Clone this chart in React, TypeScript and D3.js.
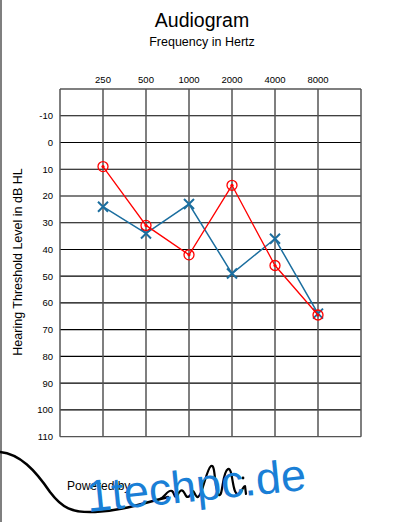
import React from 'react';
import * as d3 from 'd3';

// audiogram values (dB HL)
const frequencies = ['250', '500', '1000', '2000', '4000', '8000'];
const dbTicks = [-10, 0, 10, 20, 30, 40, 50, 60, 70, 80, 90, 100, 110];
const rightEar = [9, 31, 42, 16, 46, 64.5];
const leftEar = [24, 34, 23, 49, 36, 64];

const W = 394;
const H = 522;

export default function App() {
    const left = 60, right = 361, top = 89, bottom = 436.7;

    // columns: edges at 0..7, frequencies sit on 1..6
    const x = d3.scaleLinear().domain([0, 7]).range([left, right]);
    const y = d3.scaleLinear().domain([-20, 110]).range([top, bottom]);

    const line = d3.line<number>()
        .x((d, i) => x(i + 1))
        .y(d => y(d));

    const font = "'Liberation Sans', Arial, sans-serif";

    // footer swoosh + signature
    const swoosh = 'M0,452 C20,454 35,470 50,492 C62,508 72,513 95,512 C120,511 140,504 168,497';
    const signature = 'M160,499 C165,497 168,489 172,491 C175,493 174,499 177,496 C180,490 182,488 185,494 C187,499 190,497 192,492 C194,488 195,498 198,497 ' +
        'C203,494 206,470 211,466 C216,463 214,492 219,495 C223,497 222,472 228,469 C233,467 232,495 238,494 C242,493 243,486 245,486 L246,494';

    return (
        <svg width={W} height={H} style={{ position: 'absolute', left: 0, top: 0, background: '#fff' }}
            fontFamily={font}>
            <line x1={1} x2={1} y1={0} y2={H} stroke="#555" strokeWidth={1.5} />

            <text x={202} y={27} textAnchor="middle" fontSize={19.5} fill="#000">Audiogram</text>
            <text x={202} y={46} textAnchor="middle" fontSize={12.5} fill="#000">Frequency in Hertz</text>

            {/* frequency labels */}
            {frequencies.map((f, i) => (
                <text key={f} x={x(i + 1)} y={82.5} textAnchor="middle" fontSize={9.5} fill="#000">{f}</text>
            ))}

            {/* horizontal grid */}
            {d3.range(-20, 111, 10).map(v => (
                <line key={'h' + v} x1={left} x2={right} y1={y(v)} y2={y(v)}
                    stroke={v === 110 ? '#555' : '#000'} strokeWidth={1.2} />
            ))}
            {/* vertical grid */}
            {d3.range(0, 8).map(i => (
                <line key={'v' + i} x1={x(i)} x2={x(i)} y1={top} y2={bottom}
                    stroke="#555" strokeWidth={1.5} />
            ))}

            {dbTicks.map(v => (
                <text key={'t' + v} x={53} y={y(v) + 3.5} textAnchor="end" fontSize={9.5} fill="#000">{v}</text>
            ))}

            <text transform={`translate(22,262) rotate(-90)`} textAnchor="middle" fontSize={12.5} fill="#000">
                Hearing Threshold Level in dB HL
            </text>

            {/* left ear (blue X) */}
            <path d={line(leftEar) || ''} fill="none" stroke="#1b6e9f" strokeWidth={1.5} />
            {leftEar.map((v, i) => {
                const cx = x(i + 1), cy = y(v), s = 5;
                return (
                    <path key={'x' + i} d={`M${cx - s},${cy - s}L${cx + s},${cy + s}M${cx - s},${cy + s}L${cx + s},${cy - s}`}
                        stroke="#1b6e9f" strokeWidth={2} fill="none" />
                );
            })}

            {/* right ear (red O) */}
            <path d={line(rightEar) || ''} fill="none" stroke="#ff0000" strokeWidth={1.3} />
            {rightEar.map((v, i) => (
                <g key={'o' + i}>
                    <circle cx={x(i + 1)} cy={y(v)} r={5} fill="none" stroke="#ff0000" strokeWidth={1.3} />
                    <circle cx={x(i + 1)} cy={y(v)} r={1.6} fill="#ff0000" />
                </g>
            ))}

            {/* footer */}
            <path d={swoosh} fill="none" stroke="#000" strokeWidth={2.5} strokeLinecap="round" />
            <path d={signature} fill="none" stroke="#000" strokeWidth={2.2} strokeLinecap="round" strokeLinejoin="round" />
            <circle cx={243} cy={478} r={1.4} fill="#000" />
            <text x={67} y={490} fontSize={12} fill="#000">Powered by</text>

            <text transform="translate(88,512) rotate(-5.8)" fontSize={45} fill="#1a7fd6" fontFamily={font}>1techpc.de</text>
        </svg>
    );
}
